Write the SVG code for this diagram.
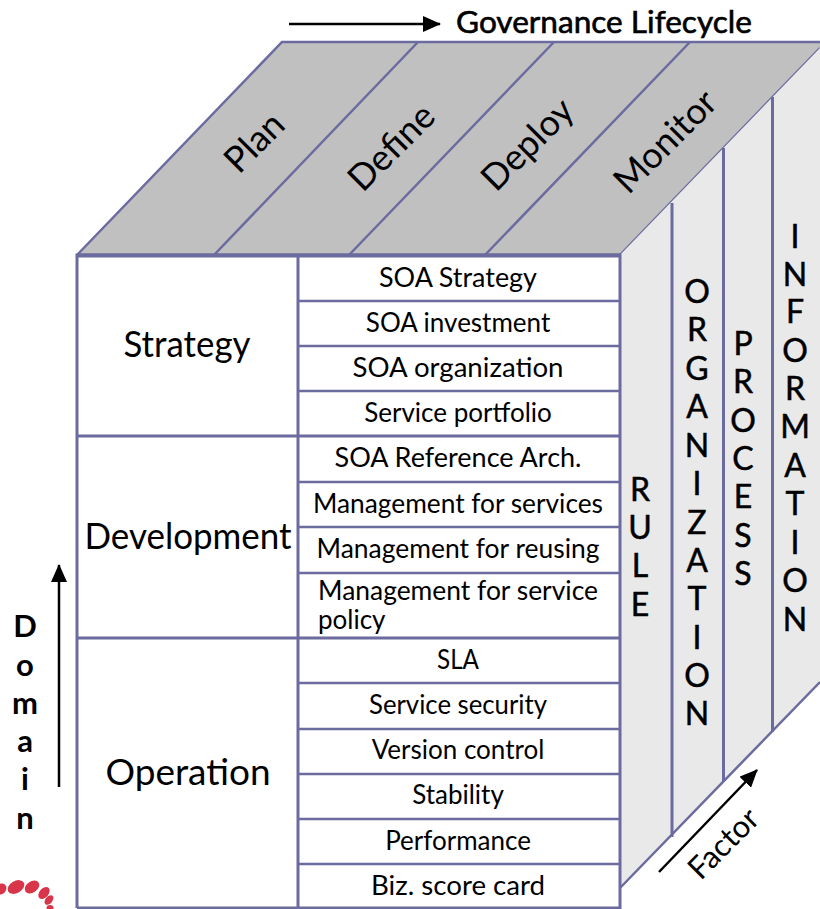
<svg xmlns="http://www.w3.org/2000/svg" width="820" height="909" viewBox="0 0 820 909">
<style>
text{font-family:"Lato","Liberation Sans",sans-serif;fill:#000}
.l{stroke:#6b6b9f;stroke-width:3;fill:none}
.t{stroke:#6b6b9f;stroke-width:2.500;fill:none}
.top{font-size:36px;text-anchor:middle}
.dom{font-size:36px;text-anchor:middle}
.cell{font-size:26px;text-anchor:middle}
.v{font-size:32px;text-anchor:middle;stroke:#000;stroke-width:.5}
.b{font-size:31px;font-weight:700;text-anchor:middle}
.a{stroke:#000;stroke-width:2.500;fill:none;marker-end:url(#ah)}
</style>
<defs><marker id="ah" markerUnits="userSpaceOnUse" markerWidth="18" markerHeight="16" refX="17" refY="8" orient="auto"><path d="M0 0L18 8L0 16Z" fill="#000"/></marker></defs>
<g id="top-face">
<path d="M77 255L282 42H820V48L620 255Z" fill="#c0c0c0"/>
<path class="t" d="M77 255L282 42H820M214 255L418 42M349 255L554 42M485 255L690 42"/>
<path class="t" d="M620 255L820 48"/>
<text class="top" transform="translate(263 151) rotate(-45)">Plan</text>
<text class="top" transform="translate(400 156) rotate(-45)">Define</text>
<text class="top" transform="translate(536 153) rotate(-45)">Deploy</text>
<text class="top" transform="translate(674 150) rotate(-45)">Monitor</text>
</g>
<g id="side-face">
<path d="M620 255L820 48V682L620 888Z" fill="#e9e9e9"/>
<path class="t" d="M620 888L820 682"/>
<path class="l" d="M672 203V837M723.500 148V782M772.500 97V732"/>
<g id="rule"><text class="v" x="640" y="501">R</text><text class="v" x="640" y="539">U</text><text class="v" x="640" y="577">L</text><text class="v" x="640" y="616">E</text></g>
<g id="organization">
<text class="v" x="697" y="303">O</text><text class="v" x="697" y="341">R</text><text class="v" x="697" y="380">G</text><text class="v" x="697" y="418">A</text><text class="v" x="697" y="457">N</text><text class="v" x="697" y="495">I</text><text class="v" x="697" y="534">Z</text><text class="v" x="697" y="572">A</text><text class="v" x="697" y="610">T</text><text class="v" x="697" y="649">I</text><text class="v" x="697" y="687">O</text><text class="v" x="697" y="725">N</text>
</g>
<g id="process">
<text class="v" x="743" y="355">P</text><text class="v" x="743" y="393">R</text><text class="v" x="743" y="432">O</text><text class="v" x="743" y="470">C</text><text class="v" x="743" y="508">E</text><text class="v" x="743" y="547">S</text><text class="v" x="743" y="585">S</text>
</g>
<g id="information">
<text class="v" x="795" y="248">I</text><text class="v" x="795" y="286">N</text><text class="v" x="795" y="323">F</text><text class="v" x="795" y="362">O</text><text class="v" x="795" y="400">R</text><text class="v" x="795" y="438">M</text><text class="v" x="795" y="477">A</text><text class="v" x="795" y="515">T</text><text class="v" x="795" y="554">I</text><text class="v" x="795" y="592">O</text><text class="v" x="795" y="631">N</text>
</g>
</g>
<g id="table">
<rect x="78" y="256" width="542" height="652" fill="#fff"/>
<path class="l" d="M77 908V255H620V908H77M298 255V908M77 436H620M77 638H620"/>
<path class="l" style="stroke-width:4" d="M77 255.500H620"/>
<path class="t" d="M298 301H620M298 346H620M298 391H620M298 482H620M298 527H620M298 573H620M298 683H620M298 729H620M298 774H620M298 819H620M298 864H620"/>
</g>
<g id="domains">
<text class="dom" x="187" y="357" textLength="127" lengthAdjust="spacingAndGlyphs">Strategy</text>
<text class="dom" x="188" y="549" textLength="207" lengthAdjust="spacingAndGlyphs">Development</text>
<text class="dom" x="188" y="785" textLength="165" lengthAdjust="spacingAndGlyphs">Operation</text>
</g>
<g id="cells">
<text class="cell" x="458" y="287" textLength="158" lengthAdjust="spacingAndGlyphs">SOA Strategy</text>
<text class="cell" x="458" y="332">SOA investment</text>
<text class="cell" x="458" y="377" textLength="211" lengthAdjust="spacingAndGlyphs">SOA organization</text>
<text class="cell" x="458" y="422">Service portfolio</text>
<text class="cell" x="458" y="467" textLength="247" lengthAdjust="spacingAndGlyphs">SOA Reference Arch.</text>
<text class="cell" x="458" y="513" textLength="290" lengthAdjust="spacingAndGlyphs">Management for services</text>
<text class="cell" x="458" y="558" textLength="283" lengthAdjust="spacingAndGlyphs">Management for reusing</text>
<text class="cell" style="text-anchor:start" x="318" y="600" textLength="280" lengthAdjust="spacingAndGlyphs">Management for service</text>
<text class="cell" style="text-anchor:start" x="318" y="629">policy</text>
<text class="cell" x="458" y="669" textLength="42" lengthAdjust="spacingAndGlyphs">SLA</text>
<text class="cell" x="458" y="714" textLength="178" lengthAdjust="spacingAndGlyphs">Service security</text>
<text class="cell" x="458" y="759">Version control</text>
<text class="cell" x="458" y="804">Stability</text>
<text class="cell" x="458" y="850">Performance</text>
<text class="cell" x="458" y="895" textLength="174" lengthAdjust="spacingAndGlyphs">Biz. score card</text>
</g>
<g id="axes">
<path class="a" d="M289 24H440"/>
<path class="a" d="M59 787V565"/>
<path class="a" d="M659 872L757 770"/>
<text x="456" y="33" textLength="296" lengthAdjust="spacingAndGlyphs" style="font-size:30px;stroke:#000;stroke-width:.6">Governance Lifecycle</text>
<text class="b" x="25" y="637">D</text><text class="b" x="25" y="676">o</text><text class="b" x="25" y="714">m</text><text class="b" x="25" y="752">a</text><text class="b" x="25" y="790">i</text><text class="b" x="25" y="829">n</text>
<text class="top" style="font-size:31px" transform="translate(731 851) rotate(-45)">Factor</text>
</g>
<g id="logo" fill="#d8354a">
<ellipse cx="1" cy="889" rx="5" ry="6" transform="rotate(40 1 889)"/>
<ellipse cx="16" cy="887" rx="9" ry="6" transform="rotate(-30 16 887)"/>
<ellipse cx="32" cy="887" rx="8" ry="5.500" transform="rotate(-35 32 887)"/>
<ellipse cx="44" cy="893" rx="7" ry="4.500" transform="rotate(-50 44 893)"/>
<ellipse cx="49" cy="900" rx="5.500" ry="3.500" transform="rotate(-50 49 900)"/>
<ellipse cx="50" cy="908" rx="3.500" ry="3"/>
</g>
</svg>
